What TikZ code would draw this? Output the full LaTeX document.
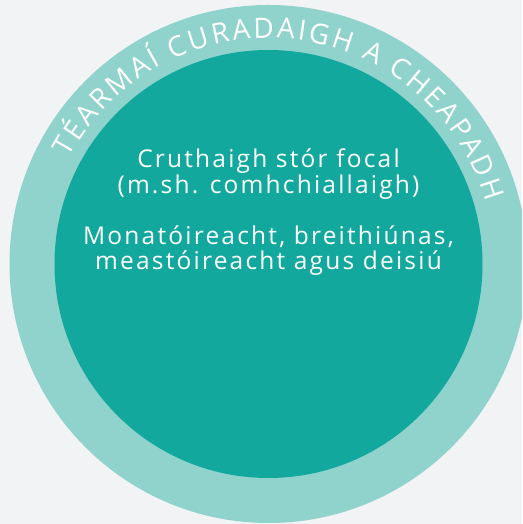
\documentclass[tikz,border=0pt]{standalone}
\usepackage{fontspec}
\setmainfont{Open Sans}
\newfontfamily\bodyfont[LetterSpace=9]{Open Sans}
\newfontfamily\ringfont{Open Sans}
\newcommand\ringstyle{\ringfont\fontsize{28}{32}\selectfont}
\usetikzlibrary{decorations.text}
\definecolor{bgc}{HTML}{F2F3F5}
\definecolor{ringc}{HTML}{8FD3CC}
\definecolor{corec}{HTML}{12A89D}
\tikzset{
  disc/.style={circle, inner sep=0pt, draw=none},
  bodyline/.style={anchor=base, text=white, inner sep=0pt, font=\bodyfont\fontsize{24.5}{26}\selectfont}
}
\begin{document}
\begin{tikzpicture}[x=1pt,y=1pt]
\useasboundingbox (0,0) rectangle (522,524);
\clip (0,0) rectangle (522,524);
\fill[bgc] (0,0) rectangle (522,524);
\node[disc, fill=ringc, minimum size=518pt] (outer) at (268.5,260) {};
\node[disc, fill=corec, minimum size=428pt] (inner) at (268.5,260) {};
\path[decorate, decoration={text along path,
   text={|\ringstyle|TÉARMAÍ CURADAIGH A CHEAPADH},
   text color=white, text align={fit to path}}]
   (outer.center) ++(152:226) arc[start angle=152, end angle=16, radius=226];
\node[bodyline] (l1) at (268.5,356) {Cruthaigh stór focal};
\node[bodyline] (l2) at (268.5,330) {(m.sh. comhchiallaigh)};
\node[bodyline] (l3) at (268.5,279) {Monatóireacht, breithiúnas,};
\node[bodyline] (l4) at (268.5,254) {meastóireacht agus deisiú};
\end{tikzpicture}
\end{document}
